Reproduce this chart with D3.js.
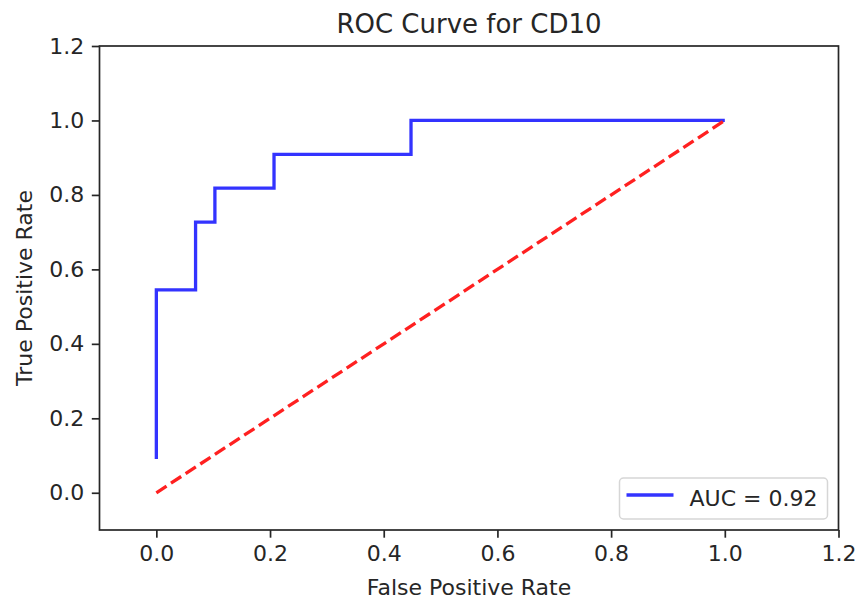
<!DOCTYPE html>
<html lang="en">
<head>
<meta charset="utf-8">
<title>ROC Curve for CD10</title>
<script src="https://cdn.jsdelivr.net/npm/d3@7"></script>
<style>
body { margin: 0; background: #fff; }
text { font-family: "DejaVu Sans", sans-serif; fill: #262626; }
.axis path, .axis line { stroke: #262626; stroke-width: 1.7px; }
.axis text { font-size: 22px; }
</style>
</head>
<body>
<script>
var w = 855, h = 603;

// ROC curve points (step corners)
var fpr = [0, 0, 0.069, 0.069, 0.103, 0.103, 0.207, 0.207, 0.448, 0.448, 1.0];
var tpr = [0.091, 0.545, 0.545, 0.727, 0.727, 0.818, 0.818, 0.909, 0.909, 1.0, 1.0];
// chance line
var diagX = [0, 1];
var diagY = [0, 1];
var ticks = [0, 0.2, 0.4, 0.6, 0.8, 1.0, 1.2];
var aucLabel = "AUC = 0.92";

var axLeft = 99.5, axRight = 838.5, axTop = 46, axBottom = 530;

var x = d3.scaleLinear().domain([-0.1, 1.2]).range([axLeft, axRight]);
var y = d3.scaleLinear().domain([-0.1, 1.2]).range([axBottom, axTop]);

var svg = d3.select("body").append("svg")
  .attr("width", w).attr("height", h);

var line = d3.line()
  .x(function(d) { return x(d[0]); })
  .y(function(d) { return y(d[1]); });

// ROC
svg.append("path")
  .datum(d3.zip(fpr, tpr))
  .attr("d", line)
  .attr("fill", "none")
  .attr("stroke", "#3333ff")
  .attr("stroke-width", 3.3)
  .attr("stroke-linejoin", "miter");

// diagonal
svg.append("path")
  .datum(d3.zip(diagX, diagY))
  .attr("d", line)
  .attr("fill", "none")
  .attr("stroke", "#ff2020")
  .attr("stroke-width", 3.3)
  .attr("stroke-dasharray", "12.2,5.3");

// axes
var fmt = d3.format(".1f");
svg.append("g")
  .attr("class", "axis")
  .attr("transform", "translate(0," + axBottom + ")")
  .call(d3.axisBottom(x).tickValues(ticks).tickFormat(fmt).tickSize(7.7).tickPadding(7.5).tickSizeOuter(0));
svg.append("g")
  .attr("class", "axis")
  .attr("transform", "translate(" + axLeft + ",0)")
  .call(d3.axisLeft(y).tickValues(ticks).tickFormat(fmt).tickSize(7.7).tickPadding(7.5).tickSizeOuter(0));
svg.selectAll(".axis .domain").remove();

// frame
svg.append("rect")
  .attr("x", axLeft).attr("y", axTop)
  .attr("width", axRight - axLeft).attr("height", axBottom - axTop)
  .attr("fill", "none")
  .attr("stroke", "#262626")
  .attr("stroke-width", 1.7);

// title and labels
svg.append("text")
  .attr("x", (axLeft + axRight) / 2).attr("y", 33)
  .attr("text-anchor", "middle")
  .attr("font-size", "26px")
  .text("ROC Curve for CD10");
svg.append("text")
  .attr("x", (axLeft + axRight) / 2).attr("y", 595)
  .attr("text-anchor", "middle")
  .attr("font-size", "22px")
  .text("False Positive Rate");
svg.append("text")
  .attr("transform", "translate(32," + ((axTop + axBottom) / 2) + ") rotate(-90)")
  .attr("text-anchor", "middle")
  .attr("font-size", "22px")
  .text("True Positive Rate");

// legend
var lw = 208, lh = 41, pad = 11;
var lg = svg.append("g")
  .attr("transform", "translate(" + (axRight - pad - lw) + "," + (axBottom - pad - lh) + ")");
lg.append("rect")
  .attr("width", lw).attr("height", lh)
  .attr("rx", 4)
  .attr("fill", "#fff").attr("fill-opacity", 0.8)
  .attr("stroke", "#d6d6d6").attr("stroke-width", 1.5);
lg.append("line")
  .attr("x1", 7).attr("x2", 54)
  .attr("y1", 17).attr("y2", 17)
  .attr("stroke", "#3333ff").attr("stroke-width", 3.3);
lg.append("text")
  .attr("x", 70).attr("y", 28)
  .attr("font-size", "22px")
  .text(aucLabel);
</script>
</body>
</html>
